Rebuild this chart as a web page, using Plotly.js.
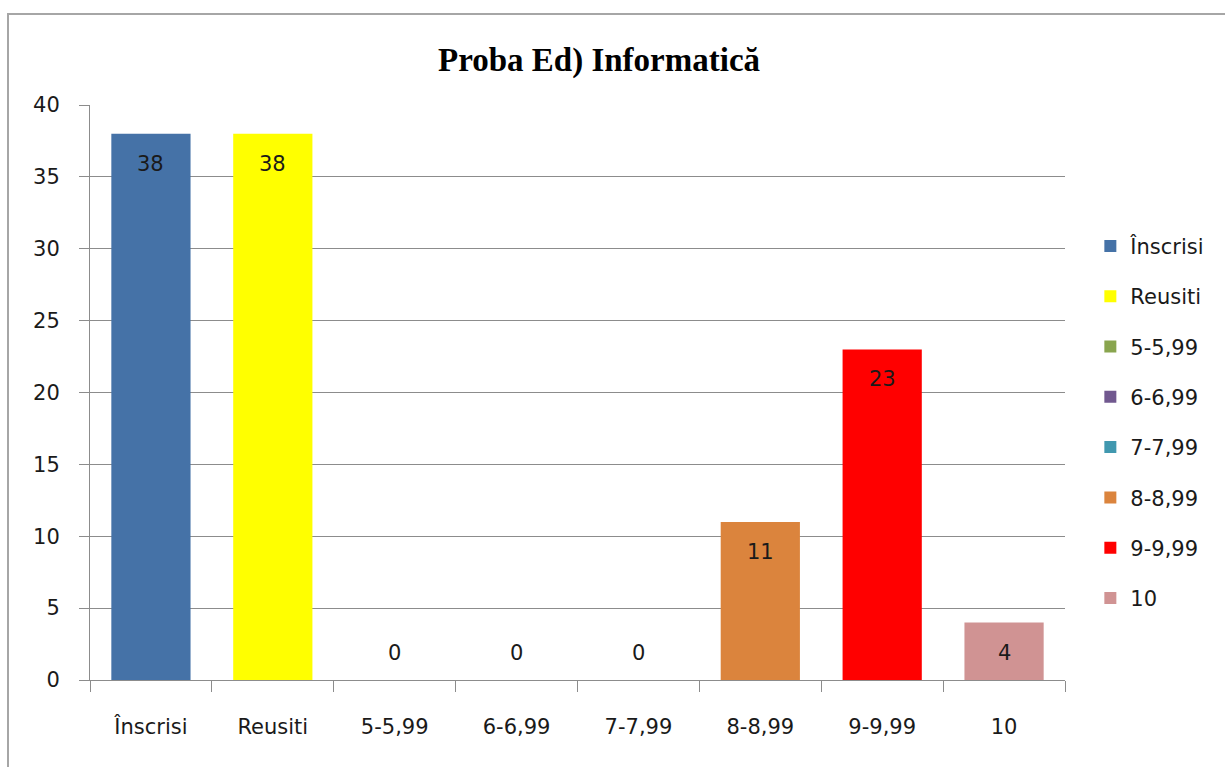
<!DOCTYPE html>
<html>
<head>
<meta charset="utf-8">
<script src="https://cdn.plot.ly/plotly-3.0.1.min.js"></script>
<style>
  html, body { margin: 0; padding: 0; background: #fff; }
  #wrap { position: relative; width: 1225px; height: 767px; overflow: hidden; }
  #chart { position: absolute; left: 0; top: 0; width: 1225px; height: 767px; }
  #frame { position: absolute; left: 7px; top: 13px; width: 1300px; height: 900px;
           border-top: 2px solid #a6a6a6; border-left: 2px solid #a6a6a6; pointer-events: none; }
</style>
</head>
<body>
<div id="wrap">
  <div id="chart"></div>
  <div id="frame"></div>
</div>
<script>
const categories = ["Înscrisi", "Reusiti", "5-5,99", "6-6,99", "7-7,99", "8-8,99", "9-9,99", "10"];
const values = [38, 38, 0, 0, 0, 11, 23, 4];
const colors = ["#4572A7", "#FFFF00", "#89A54E", "#71588F", "#4198AF", "#DB843D", "#FF0000", "#D09393"];
const yTicks = [0, 5, 10, 15, 20, 25, 30, 35, 40];
const chartTitle = "Proba Ed) Informatică";

const font = "DejaVu Sans, Noto Sans, sans-serif";
const textColor = "#1a1a1a";
const gridColor = "#8c8c8c";

const traces = categories.map((c, i) => ({
  type: "bar",
  name: c,
  x: [c],
  y: [values[i]],
  marker: { color: colors[i], line: { width: 0 } },
  legendgroup: "g" + i,
  hoverinfo: "x+y"
}));

const annotations = categories.map((c, i) => ({
  x: i,
  y: values[i],
  xref: "x",
  yref: "y",
  text: String(values[i]),
  showarrow: false,
  yanchor: "middle",
  yshift: values[i] > 0 ? -30 : 27,
  font: { family: font, size: 21, color: textColor }
}));

const layout = {
  width: 1225,
  height: 767,
  margin: { l: 90, r: 160, t: 105, b: 87 },
  paper_bgcolor: "#ffffff",
  plot_bgcolor: "#ffffff",
  barmode: "overlay",
  bargap: 0.35,
  title: {
    text: "<b>" + chartTitle + "</b>",
    x: 0.489,
    xref: "container",
    xanchor: "center",
    y: 0.923,
    yref: "container",
    yanchor: "middle",
    font: { family: "Liberation Serif, Times New Roman, serif", size: 33, color: "#000" }
  },
  xaxis: {
    type: "category",
    categoryorder: "array",
    categoryarray: categories,
    range: [-0.5, categories.length - 0.5],
    showgrid: false,
    showline: true,
    linecolor: gridColor,
    linewidth: 1,
    ticks: "outside",
    tickson: "boundaries",
    ticklen: 11,
    tickcolor: gridColor,
    tickwidth: 1,
    ticklabelstandoff: 28,
    tickfont: { family: font, size: 21, color: textColor },
    zeroline: false,
    fixedrange: true
  },
  yaxis: {
    range: [0, 40],
    tickvals: yTicks,
    ticktext: yTicks.map(String),
    showgrid: true,
    gridcolor: gridColor,
    gridwidth: 1,
    showline: true,
    linecolor: gridColor,
    linewidth: 1,
    ticks: "outside",
    ticklen: 10,
    tickcolor: gridColor,
    tickwidth: 1,
    ticklabelstandoff: 15,
    tickfont: { family: font, size: 21, color: textColor },
    zeroline: false,
    fixedrange: true
  },
  legend: {
    x: 1.026,
    xanchor: "left",
    y: 0.79,
    yanchor: "top",
    font: { family: font, size: 21, color: textColor },
    tracegroupgap: 20,
    itemclick: false,
    bgcolor: "rgba(0,0,0,0)"
  },
  showlegend: true,
  annotations: annotations
};

Plotly.newPlot("chart", traces, layout, { displayModeBar: false, staticPlot: true });
</script>
</body>
</html>
